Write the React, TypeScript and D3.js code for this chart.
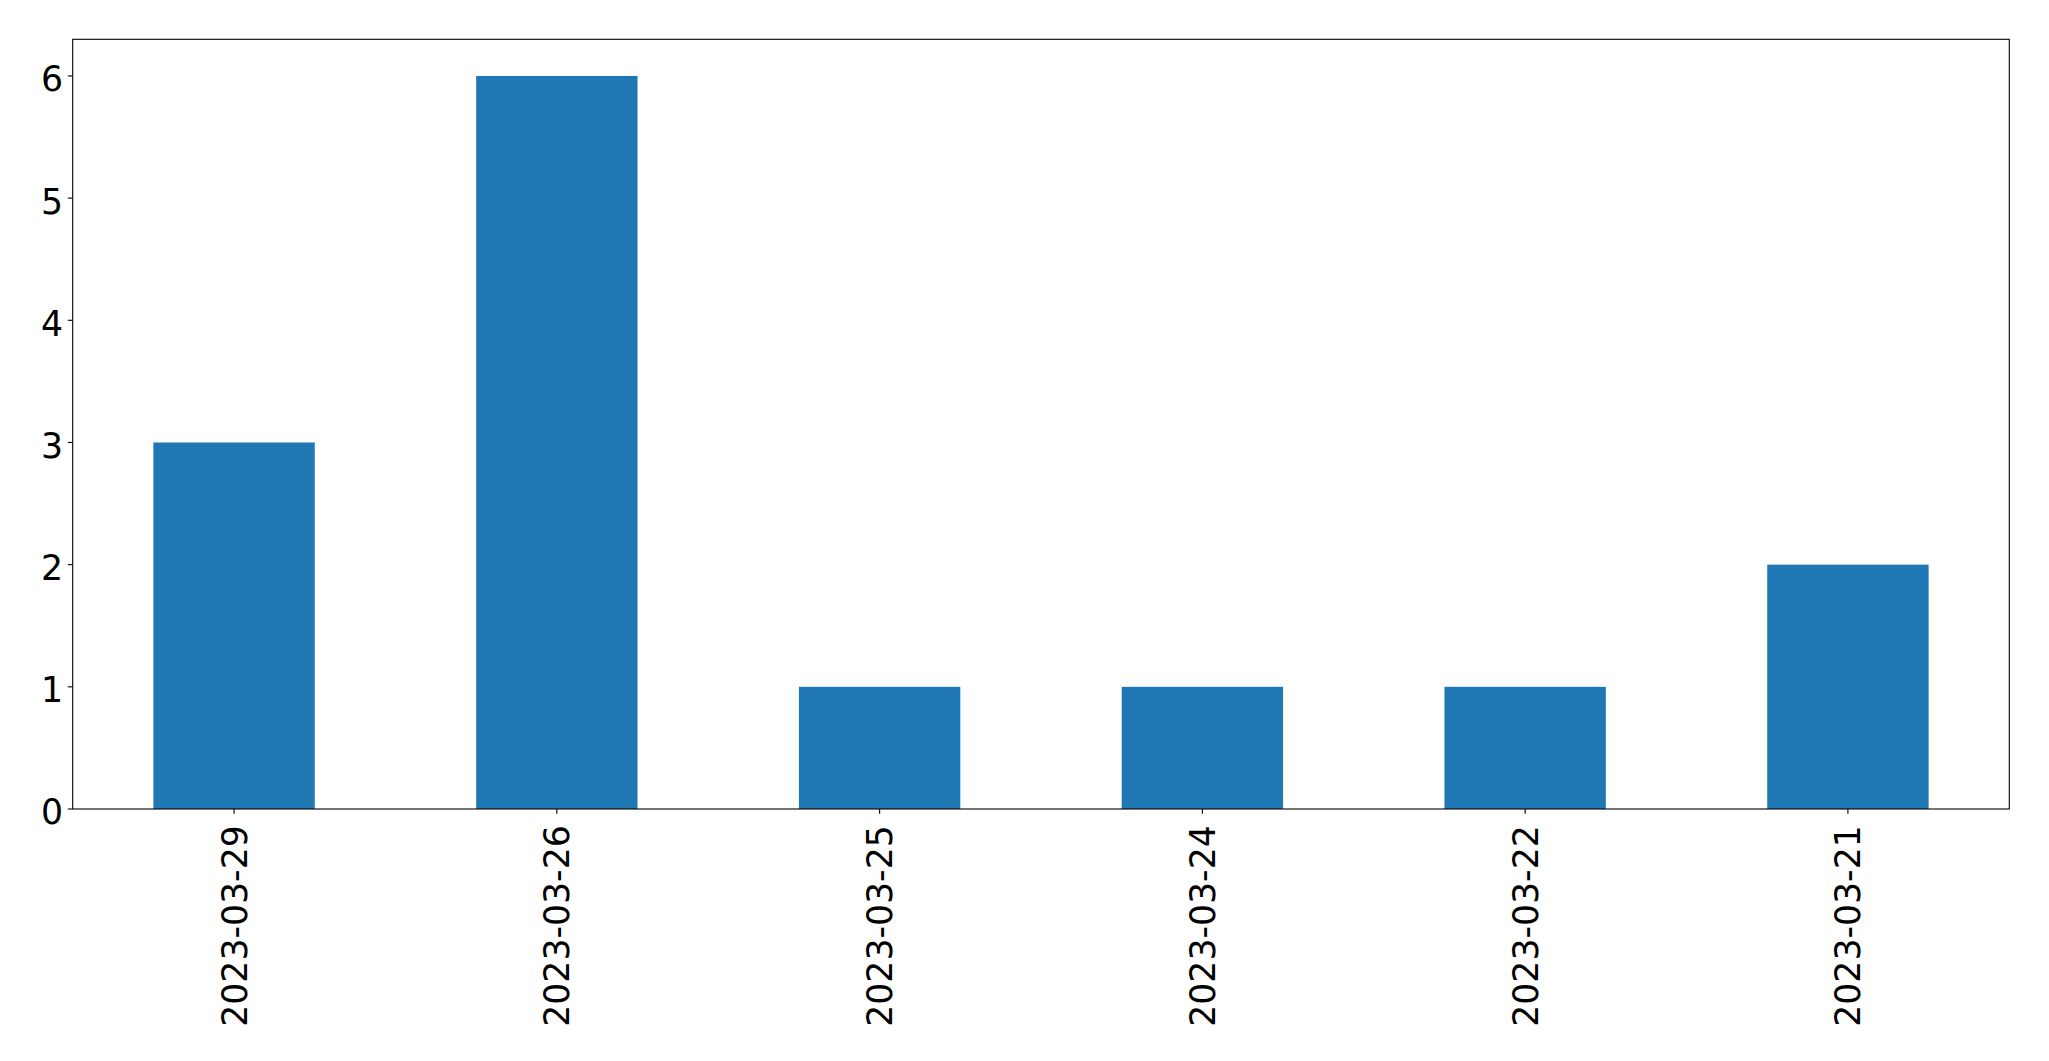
import React from "react";
import * as d3 from "d3";

const categories = ["2023-03-29", "2023-03-26", "2023-03-25", "2023-03-24", "2023-03-22", "2023-03-21"];
const counts = [3, 6, 1, 1, 1, 2];
const yTicks = [0, 1, 2, 3, 4, 5, 6];

const W = 2049;
const H = 1061;
const M = { left: 72.7, right: 2009.3, top: 39.3, bottom: 809 };
const FONT = "'DejaVu Sans', sans-serif";
const FS = 34.7;
const TICK = 4.86;
const PAD = 4.86;

export default function App() {
  const x = d3
    .scaleLinear()
    .domain([-0.5, categories.length - 0.5])
    .range([M.left, M.right]);
  const y = d3.scaleLinear().domain([0, 6.3]).range([M.bottom, M.top]);
  const bw = x(0.25) - x(-0.25);

  return (
    <svg
      width={W}
      height={H}
      style={{ position: "absolute", left: 0, top: 0, background: "#fff" }}
      fontFamily={FONT}
    >
      <rect x={0} y={0} width={W} height={H} fill="#fff" />
      {counts.map((v, i) => (
        <rect
          key={categories[i]}
          x={x(i) - bw / 2}
          y={y(v)}
          width={bw}
          height={y(0) - y(v)}
          fill="#1f77b4"
        />
      ))}
      <rect
        x={M.left}
        y={M.top}
        width={M.right - M.left}
        height={M.bottom - M.top}
        fill="none"
        stroke="#000"
        strokeWidth={1.1}
      />
      {yTicks.map((t) => (
        <g key={t}>
          <line x1={M.left - TICK} x2={M.left} y1={y(t)} y2={y(t)} stroke="#000" strokeWidth={1.1} />
          <text
            x={M.left - TICK - PAD}
            y={y(t)}
            dy="0.445em"
            textAnchor="end"
            fontSize={FS}
            fill="#000"
          >
            {t}
          </text>
        </g>
      ))}
      {categories.map((c, i) => (
        <g key={c}>
          <line x1={x(i)} x2={x(i)} y1={M.bottom} y2={M.bottom + TICK} stroke="#000" strokeWidth={1.1} />
          <text
            transform={`translate(${x(i)},${M.bottom + TICK + PAD + 6.5}) rotate(-90)`}
            dy="0.36em"
            textAnchor="end"
            fontSize={FS}
            fill="#000"
          >
            {c}
          </text>
        </g>
      ))}
    </svg>
  );
}
